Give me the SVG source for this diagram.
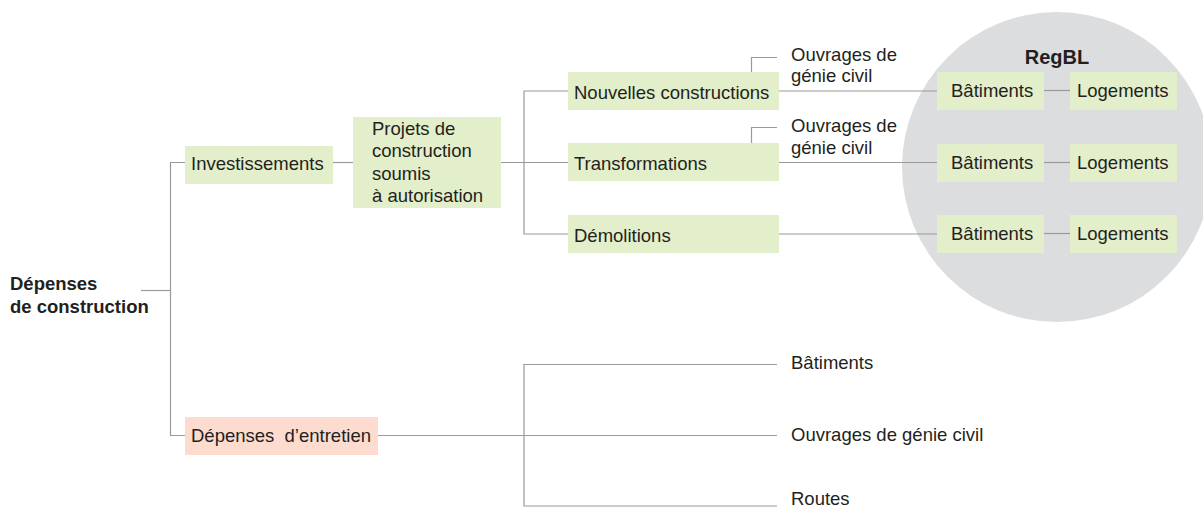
<svg xmlns="http://www.w3.org/2000/svg" width="1203" height="509" viewBox="0 0 1203 509">
<style>
text{font-family:"Liberation Sans",Arial,sans-serif;font-size:18.5px;fill:#231f20}
.b{font-weight:bold}
.g{fill:#e3eeca}
.p{fill:#fddbcf}
.c line,.c polyline{stroke:#9a9a9a;stroke-width:1.2;fill:none}
</style>
<rect width="1203" height="509" fill="#ffffff"/>
<circle id="regbl-circle" cx="1057" cy="167" r="155" fill="#dcdddf"/>
<g class="c" id="connectors">
<line x1="141" y1="290.5" x2="170.5" y2="290.5"/>
<polyline points="185,162.5 170.5,162.5 170.5,435.5 185,435.5"/>
<line x1="333" y1="162.5" x2="353" y2="162.5"/>
<line x1="501" y1="162.5" x2="568" y2="162.5"/>
<polyline points="568,91 524,91 524,234 568,234"/>
<polyline points="751.5,72 751.5,57.5 777,57.5"/>
<polyline points="751.5,143 751.5,127.5 777,127.5"/>
<line x1="779" y1="91" x2="937" y2="91"/>
<line x1="779" y1="162.5" x2="937" y2="162.5"/>
<line x1="779" y1="234" x2="937" y2="234"/>
<line x1="1044" y1="90.5" x2="1070" y2="90.5"/>
<line x1="1044" y1="162.5" x2="1070" y2="162.5"/>
<line x1="1044" y1="233.5" x2="1070" y2="233.5"/>
<line x1="378" y1="435.5" x2="777" y2="435.5"/>
<polyline points="777,364.5 524,364.5 524,506 777,506"/>
</g>
<g id="depenses-construction">
<text class="b" x="10" y="290">Dépenses</text>
<text class="b" x="10" y="313">de construction</text>
</g>
<g id="investissements">
<rect class="g" x="185" y="146" width="148" height="38"/>
<text x="191" y="169.5">Investissements</text>
</g>
<g id="projets">
<rect class="g" x="353" y="117" width="148" height="91"/>
<text x="372" y="135">Projets de</text>
<text x="372" y="157">construction</text>
<text x="372" y="179.5">soumis</text>
<text x="372" y="202">à autorisation</text>
</g>
<g id="nouvelles">
<rect class="g" x="568" y="72" width="211" height="38"/>
<text x="574" y="99">Nouvelles constructions</text>
</g>
<g id="transformations">
<rect class="g" x="568" y="143" width="211" height="38"/>
<text x="574" y="169.5">Transformations</text>
</g>
<g id="demolitions">
<rect class="g" x="568" y="215" width="211" height="38"/>
<text x="574" y="241.5">Démolitions</text>
</g>
<g id="ouvrages1">
<text x="791" y="60.5">Ouvrages de</text>
<text x="791" y="82">génie civil</text>
</g>
<g id="ouvrages2">
<text x="791" y="132">Ouvrages de</text>
<text x="791" y="153.5">génie civil</text>
</g>
<g id="regbl">
<text class="b" x="1057" y="63.5" text-anchor="middle" style="font-size:20px">RegBL</text>
</g>
<g id="batiments1"><rect class="g" x="937" y="72" width="107" height="38"/><text x="951" y="97">Bâtiments</text></g>
<g id="logements1"><rect class="g" x="1070" y="72" width="107" height="38"/><text x="1077" y="97">Logements</text></g>
<g id="batiments2"><rect class="g" x="937" y="144" width="107" height="38"/><text x="951" y="168.5">Bâtiments</text></g>
<g id="logements2"><rect class="g" x="1070" y="144" width="107" height="38"/><text x="1077" y="168.5">Logements</text></g>
<g id="batiments3"><rect class="g" x="937" y="215" width="107" height="38"/><text x="951" y="239.5">Bâtiments</text></g>
<g id="logements3"><rect class="g" x="1070" y="215" width="107" height="38"/><text x="1077" y="239.5">Logements</text></g>
<g id="entretien">
<rect class="p" x="185" y="417" width="193" height="38"/>
<text x="191" y="441.5" xml:space="preserve" style="white-space:pre">Dépenses  d’entretien</text>
</g>
<g id="batiments-entretien"><text x="791" y="369">Bâtiments</text></g>
<g id="ouvrages-entretien"><text x="791" y="440.5">Ouvrages de génie civil</text></g>
<g id="routes"><text x="791" y="505">Routes</text></g>
</svg>
